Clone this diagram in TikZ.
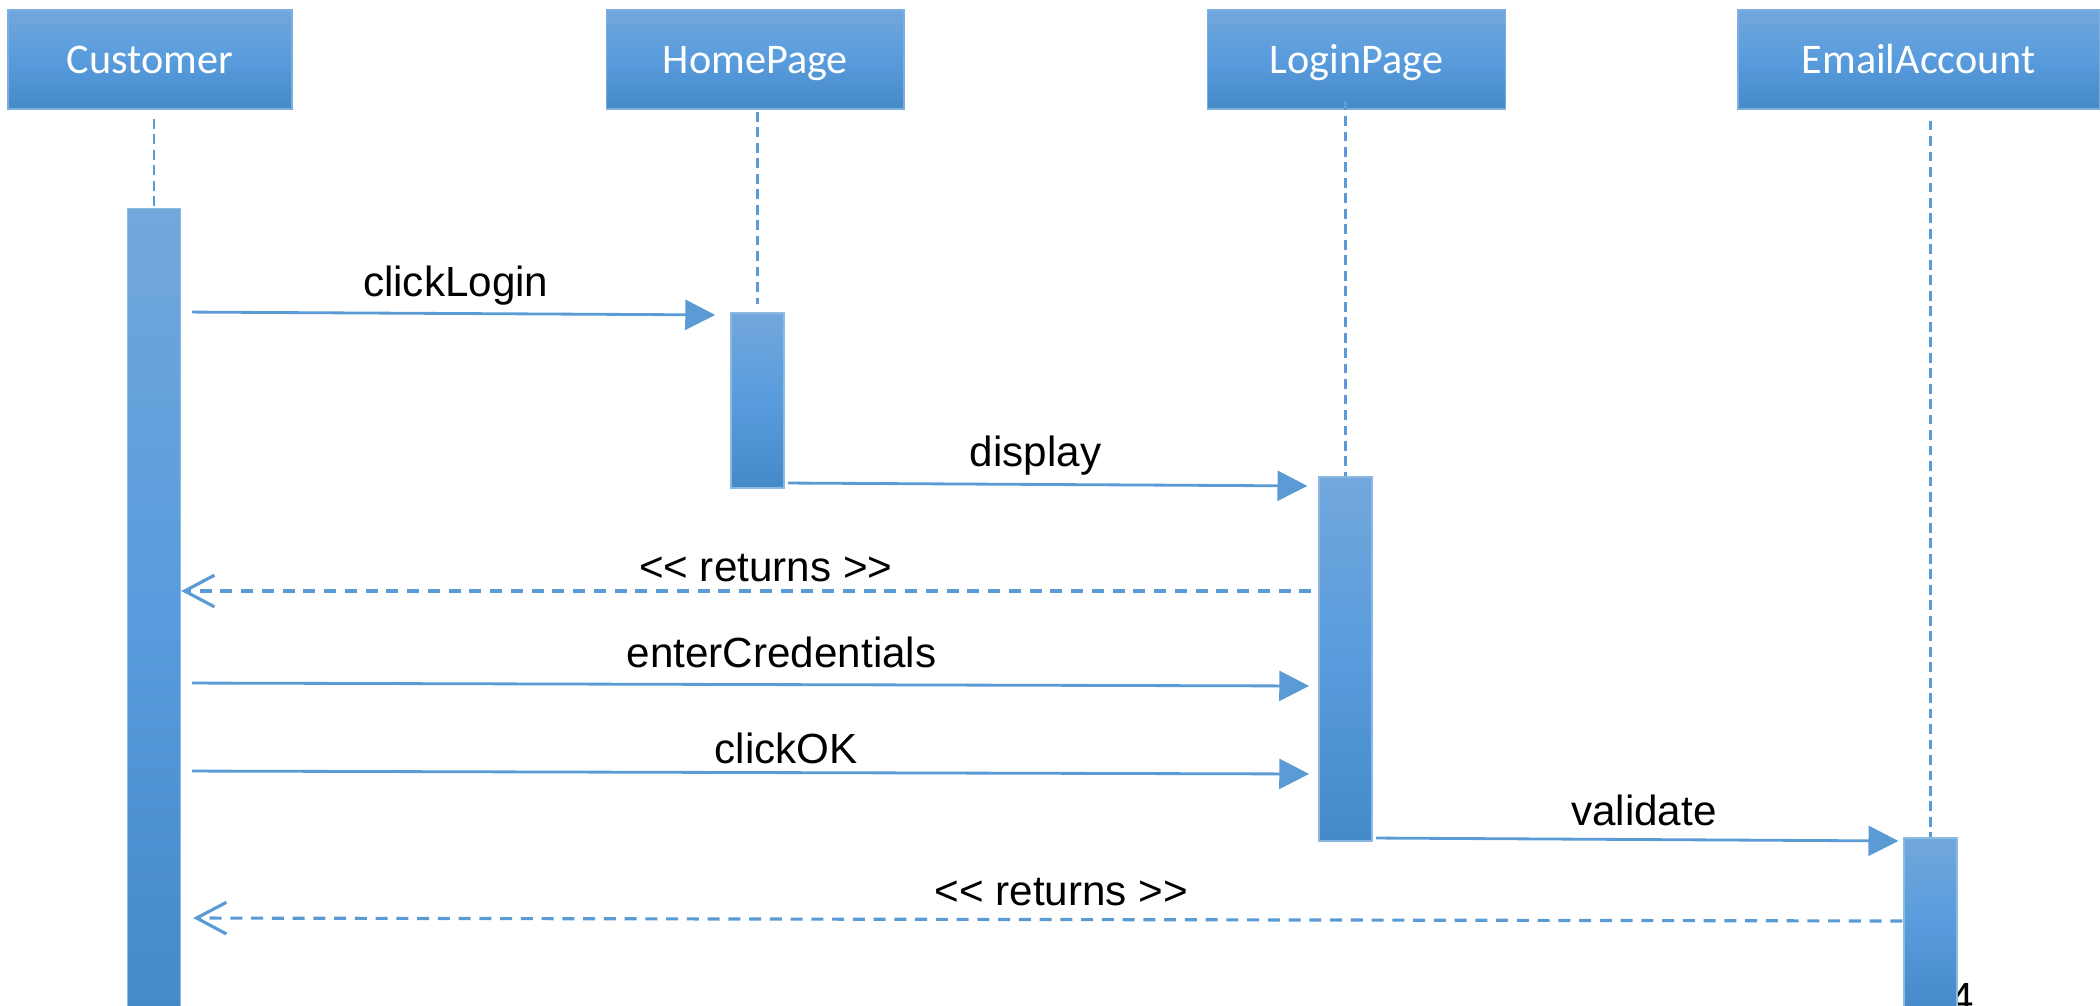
\documentclass[tikz,border=0pt]{standalone}
\usepackage{fontspec}
\setmainfont{Liberation Sans}
\newfontfamily\headfont{Carlito}
\usetikzlibrary{arrows.meta,positioning}
\definecolor{umlblue}{RGB}{91,155,213}
\definecolor{umltop}{RGB}{114,167,220}
\definecolor{umlmid}{RGB}{88,156,221}
\definecolor{umlbot}{RGB}{68,137,200}
\newcommand{\retlabel}{<\kern0pt< returns >\kern0pt>}

\begin{document}
\begin{tikzpicture}[x=0.01cm,y=-0.01cm,font=\fontsize{12}{14}\selectfont,
head/.style={rectangle,draw=umlblue!80,line width=0.4pt,top color=umltop,bottom color=umlbot,middle color=umlmid,
  text=white,font=\headfont\fontsize{12}{14}\selectfont,minimum height=0.99cm,text height=7.7pt,text depth=0pt,inner sep=0pt},
bar/.style={rectangle,draw=umlblue!70,line width=0.4pt,top color=umltop,bottom color=umlbot,middle color=umlmid,
  minimum width=0.53cm,inner sep=0pt},
lifeline/.style={umlblue,line width=0.85pt,dash pattern=on 2.8pt off 1.6pt},
msg/.style={umlblue,line width=0.8pt,-{Triangle[length=8.5pt,width=8.5pt]}},
reply/.style={umlblue,line width=0.9pt,dash pattern=on 3.4pt off 2.5pt,-{Straight Barb[length=8.5pt,width=9pt]}},
lbl/.style={anchor=base,text=black,inner sep=0pt}]
\useasboundingbox (0,0) rectangle (2100,1005);
\clip (0,0) rectangle (2100,1005);

\node[head,minimum width=2.84cm] (cust) at (150,59.5) {Customer};
\node[head,minimum width=2.97cm,right=3.13cm of cust] (home) {HomePage};
\node[head,minimum width=2.98cm,right=3.02cm of home] (login) {LoginPage};
\node[head,minimum width=3.61cm,right=2.31cm of login] (email) {EmailAccount};

\node[lbl] (pagenum) at (1962,1012) {4};

\node[bar,minimum height=8.01cm] (custbar) at (154,609.5) {};
\node[bar,minimum height=1.75cm] (homebar) at (757.5,400.5) {};
\node[bar,minimum height=3.64cm] (loginbar) at (1345.5,659) {};
\node[bar,minimum height=1.72cm] (emailbar) at (1930.5,924) {};

\draw[lifeline,shorten <=2.6pt] (custbar.north |- cust.south) -- (custbar.north);
\draw[lifeline,shorten <=0.6pt,shorten >=2.3pt] (homebar.north |- home.south) -- (homebar.north);
\draw[lifeline,shorten <=-2.6pt] (loginbar.north |- login.south) -- (loginbar.north);
\draw[lifeline,shorten <=3.1pt] (emailbar.north |- email.south) -- (emailbar.north);

\draw[msg,shorten <=3.1pt,shorten >=4.3pt] (custbar.east |- 0,312) -- node[lbl,yshift=4.7pt] {clickLogin} (homebar.west |- 0,315);
\draw[msg,shorten <=0.9pt,shorten >=3.1pt] (homebar.east |- 0,483) -- node[lbl,pos=0.47,yshift=5pt] {display} (loginbar.west |- 0,486);
\draw[reply,shorten <=2pt] (loginbar.west |- 0,591) -- node[lbl,pos=0.486,yshift=2.7pt] {\retlabel} (custbar.east |- 0,591);
\draw[msg,shorten <=3.1pt,shorten >=2.6pt] (custbar.east |- 0,683) -- node[lbl,pos=0.528,yshift=5pt] {enterCredentials} (loginbar.west |- 0,686);
\draw[msg,shorten <=3.1pt,shorten >=2.6pt] (custbar.east |- 0,771) -- node[lbl,pos=0.532,yshift=2.7pt] {clickOK} (loginbar.west |- 0,774);
\draw[msg,shorten <=0.9pt,shorten >=1.4pt] (loginbar.east |- 0,838) -- node[lbl,pos=0.511,yshift=4.1pt] {validate} (emailbar.west |- 0,841);
\draw[reply,shorten <=0.3pt,shorten >=3.4pt] (emailbar.west |- 0,921) -- node[lbl,pos=0.489,yshift=4.1pt] {\retlabel} (custbar.east |- 0,918);
\end{tikzpicture}
\end{document}
